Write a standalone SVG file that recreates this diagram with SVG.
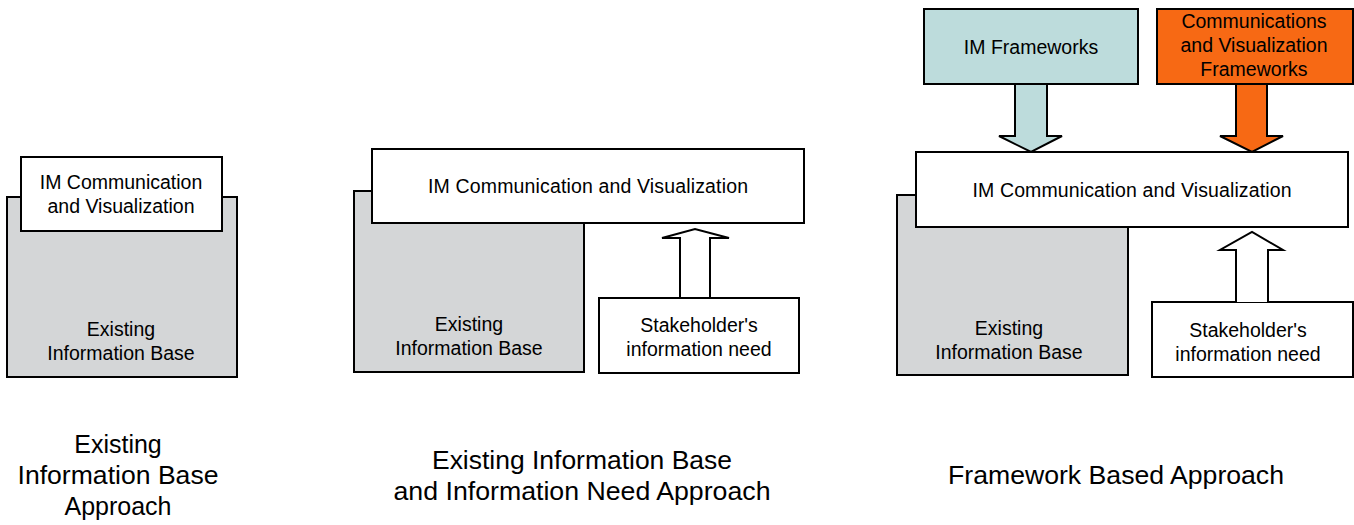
<svg xmlns="http://www.w3.org/2000/svg" width="1354" height="525" viewBox="0 0 1354 525">
<style>
.box{fill:#fff;stroke:#000;stroke-width:2}
.base{fill:#d4d6d7;stroke:#000;stroke-width:2}
.t{font-family:"Liberation Sans",Arial,sans-serif;font-size:19.5px;fill:#000;text-anchor:middle}
.cap{font-family:"Liberation Sans",Arial,sans-serif;font-size:25px;fill:#000;text-anchor:middle}
.arr{stroke:#000;stroke-width:2;stroke-linejoin:miter}
</style>
<rect width="1354" height="525" fill="#fff"/>
<!-- Panel 1 -->
<g id="p1-base"><rect class="base" x="7" y="197" width="230" height="180"/>
<text class="t" x="121" y="336">Existing</text><text class="t" x="121" y="360">Information Base</text></g>
<g id="p1-im"><rect class="box" x="21" y="157" width="201" height="74"/>
<text class="t" x="121" y="189">IM Communication</text><text class="t" x="121" y="213">and Visualization</text></g>
<!-- Panel 2 -->
<g id="p2-base"><rect class="base" x="354" y="191" width="230" height="181"/>
<text class="t" x="469" y="331">Existing</text><text class="t" x="469" y="355">Information Base</text></g>
<g id="p2-im"><rect class="box" x="372" y="149" width="432" height="74"/>
<text class="t" x="588" y="193" textLength="320" lengthAdjust="spacing">IM Communication and Visualization</text></g>
<g id="p2-sh"><rect class="box" x="599" y="298" width="200" height="75"/>
<text class="t" x="699" y="332">Stakeholder's</text><text class="t" x="699" y="356">information need</text></g>
<!-- Panel 3 -->
<g id="p3-base"><rect class="base" x="897" y="195" width="231" height="180"/>
<text class="t" x="1009" y="335">Existing</text><text class="t" x="1009" y="359">Information Base</text></g>
<g id="p3-im"><rect class="box" x="916" y="152" width="432" height="75"/>
<text class="t" x="1132" y="197" textLength="319" lengthAdjust="spacing">IM Communication and Visualization</text></g>
<g id="p3-sh"><rect class="box" x="1152" y="302" width="201" height="75"/>
<text class="t" x="1248" y="337">Stakeholder's</text><text class="t" x="1248" y="361">information need</text></g>
<g id="p3-imf"><rect x="924" y="9" width="214" height="75" fill="#bddcdc" stroke="#000" stroke-width="2"/>
<text class="t" x="1031" y="54">IM Frameworks</text></g>
<g id="p3-cvf"><rect x="1157" y="9" width="196" height="75" fill="#f76914" stroke="#000" stroke-width="2"/>
<text class="t" x="1254" y="28">Communications</text><text class="t" x="1254" y="52">and Visualization</text><text class="t" x="1254" y="76">Frameworks</text></g>
<!-- Connectors -->
<g id="connectors">
<path class="arr" fill="#fff" d="M680,297 V238 H662 L695,229 L729,238 H710 V297"/>
<path class="arr" fill="#fff" d="M1236,302 V250 H1220 L1252,232 L1283,250 H1268 V302"/>
<path class="arr" fill="#bddcdc" d="M1015,85 V136 H999 L1031,152 L1062,136 H1047 V85"/>
<path class="arr" fill="#f76914" d="M1236,85 V136 H1220 L1252,152 L1283,136 H1267 V85"/>
</g>
<!-- Captions -->
<g id="captions">
<text class="cap" x="118" y="453">Existing</text>
<text class="cap" x="118" y="484" textLength="201" lengthAdjust="spacingAndGlyphs">Information Base</text>
<text class="cap" x="118" y="515">Approach</text>
<text class="cap" x="582" y="469" textLength="300" lengthAdjust="spacingAndGlyphs">Existing Information Base</text>
<text class="cap" x="582" y="500" textLength="377" lengthAdjust="spacingAndGlyphs">and Information Need Approach</text>
<text class="cap" x="1116" y="484" textLength="336" lengthAdjust="spacingAndGlyphs">Framework Based Approach</text>
</g>
</svg>
